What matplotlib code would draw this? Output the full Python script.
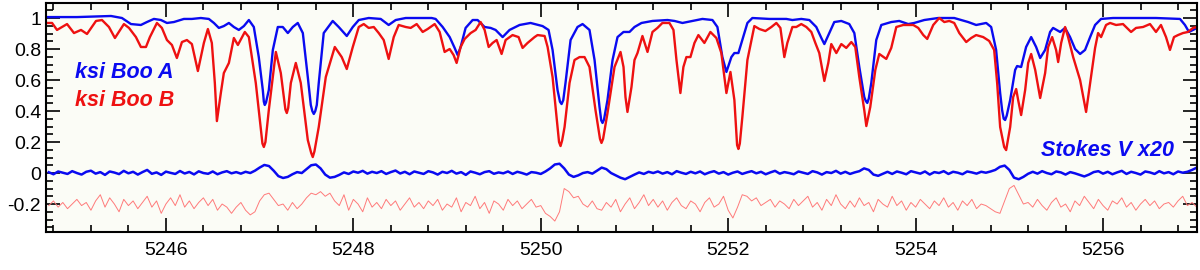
import numpy as np
import matplotlib
matplotlib.use("Agg")
import matplotlib.pyplot as plt
from matplotlib.ticker import MultipleLocator, FormatStrFormatter

plt.rcParams['font.family'] = ['Liberation Sans', 'DejaVu Sans']
plt.rcParams['axes.unicode_minus'] = False

# ksi Boo A (blue) intensity spectrum
wave_a = [5244.731, 5245.051, 5245.414, 5245.531, 5245.627, 5245.733, 5245.797, 5245.872, 5245.947, 5246.011,
          5246.085, 5246.192, 5246.277, 5246.373, 5246.458, 5246.512, 5246.565, 5246.618, 5246.672, 5246.725,
          5246.778, 5246.832, 5246.885, 5246.938, 5246.991, 5247.034, 5247.045, 5247.055, 5247.068, 5247.098,
          5247.141, 5247.194, 5247.247, 5247.301, 5247.354, 5247.407, 5247.461, 5247.514, 5247.546, 5247.562,
          5247.578, 5247.594, 5247.610, 5247.631, 5247.684, 5247.780, 5247.844, 5247.930, 5247.994, 5248.058,
          5248.164, 5248.292, 5248.377, 5248.452, 5248.559, 5248.697, 5248.836, 5248.878, 5248.953, 5249.028,
          5249.081, 5249.113, 5249.145, 5249.198, 5249.273, 5249.326, 5249.401, 5249.465, 5249.518, 5249.593,
          5249.667, 5249.774, 5249.891, 5250.019, 5250.083, 5250.126, 5250.179, 5250.205, 5250.222, 5250.240,
          5250.264, 5250.318, 5250.392, 5250.446, 5250.520, 5250.574, 5250.627, 5250.645, 5250.659, 5250.675,
          5250.712, 5250.766, 5250.819, 5250.883, 5250.947, 5251.000, 5251.075, 5251.192, 5251.352, 5251.427,
          5251.512, 5251.618, 5251.725, 5251.832, 5251.885, 5251.938, 5251.981, 5252.034, 5252.066, 5252.109,
          5252.151, 5252.205, 5252.258, 5252.439, 5252.620, 5252.685, 5252.780, 5252.866, 5252.940, 5252.994,
          5253.026, 5253.079, 5253.132, 5253.207, 5253.292, 5253.346, 5253.399, 5253.452, 5253.468, 5253.484,
          5253.500, 5253.527, 5253.580, 5253.634, 5253.740, 5253.825, 5253.921, 5253.985, 5254.092, 5254.241,
          5254.412, 5254.561, 5254.646, 5254.753, 5254.806, 5254.859, 5254.902, 5254.923, 5254.940, 5254.955,
          5254.972, 5255.009, 5255.062, 5255.083, 5255.126, 5255.179, 5255.233, 5255.286, 5255.329, 5255.382,
          5255.435, 5255.467, 5255.542, 5255.595, 5255.648, 5255.702, 5255.755, 5255.808, 5255.862, 5255.915,
          5255.979, 5256.107, 5256.352, 5256.565, 5256.821, 5256.874, 5256.917, 5256.960, 5257.003]
flux_a = [1.006, 1.006, 1.013, 1.000, 0.961, 0.955, 0.974, 0.994, 0.987, 0.968,
          0.974, 0.994, 0.994, 1.000, 0.994, 0.968, 0.936, 0.948, 0.968, 0.942,
          0.923, 0.948, 0.987, 0.942, 0.748, 0.535, 0.460, 0.439, 0.455, 0.535,
          0.794, 0.942, 0.942, 0.903, 0.942, 0.968, 0.903, 0.619, 0.439, 0.400,
          0.381, 0.400, 0.439, 0.581, 0.903, 0.981, 0.942, 0.884, 0.942, 0.987,
          1.000, 0.994, 0.955, 0.987, 1.000, 1.000, 1.000, 0.994, 0.942, 0.877,
          0.807, 0.761, 0.813, 0.936, 0.987, 0.987, 0.942, 0.936, 0.923, 0.877,
          0.923, 0.955, 0.968, 0.948, 0.923, 0.794, 0.535, 0.460, 0.445, 0.470,
          0.581, 0.858, 0.942, 0.961, 0.923, 0.729, 0.426, 0.340, 0.323, 0.345,
          0.471, 0.729, 0.877, 0.910, 0.910, 0.942, 0.968, 0.981, 0.987, 0.981,
          0.968, 0.981, 0.994, 0.987, 0.942, 0.748, 0.652, 0.748, 0.774, 0.774,
          0.858, 0.968, 1.000, 0.994, 0.994, 0.987, 0.994, 0.987, 0.942, 0.871,
          0.832, 0.903, 0.974, 0.981, 0.961, 0.903, 0.684, 0.490, 0.465, 0.452,
          0.480, 0.581, 0.858, 0.955, 0.974, 0.981, 0.961, 0.968, 0.987, 1.000,
          1.000, 0.974, 0.955, 0.968, 0.942, 0.794, 0.516, 0.406, 0.350, 0.342,
          0.370, 0.471, 0.665, 0.690, 0.684, 0.813, 0.877, 0.813, 0.742, 0.794,
          0.910, 0.936, 0.910, 0.936, 0.877, 0.800, 0.768, 0.794, 0.877, 0.955,
          0.994, 1.000, 1.000, 1.000, 0.994, 0.955, 0.910, 0.923, 0.936]

# ksi Boo B (red) intensity spectrum
wave_b = [5244.731, 5244.785, 5244.838, 5244.891, 5244.945, 5245.019, 5245.094, 5245.158, 5245.254, 5245.318,
          5245.392, 5245.456, 5245.552, 5245.606, 5245.680, 5245.733, 5245.787, 5245.829, 5245.904, 5245.957,
          5246.011, 5246.064, 5246.117, 5246.171, 5246.224, 5246.277, 5246.341, 5246.405, 5246.448, 5246.490,
          5246.522, 5246.544, 5246.586, 5246.618, 5246.672, 5246.725, 5246.768, 5246.842, 5246.885, 5246.959,
          5247.002, 5247.030, 5247.045, 5247.062, 5247.098, 5247.173, 5247.226, 5247.275, 5247.290, 5247.305,
          5247.333, 5247.386, 5247.439, 5247.514, 5247.550, 5247.567, 5247.585, 5247.631, 5247.706, 5247.802,
          5247.876, 5247.930, 5247.994, 5248.058, 5248.111, 5248.164, 5248.218, 5248.271, 5248.324, 5248.377,
          5248.431, 5248.484, 5248.559, 5248.612, 5248.676, 5248.740, 5248.793, 5248.868, 5248.921, 5248.974,
          5249.028, 5249.070, 5249.102, 5249.145, 5249.188, 5249.252, 5249.305, 5249.358, 5249.401, 5249.444,
          5249.486, 5249.529, 5249.582, 5249.625, 5249.699, 5249.763, 5249.806, 5249.859, 5249.934, 5249.966,
          5250.041, 5250.073, 5250.126, 5250.179, 5250.195, 5250.211, 5250.228, 5250.254, 5250.307, 5250.360,
          5250.414, 5250.467, 5250.520, 5250.584, 5250.632, 5250.648, 5250.665, 5250.712, 5250.787, 5250.851,
          5250.883, 5250.904, 5250.925, 5250.968, 5251.000, 5251.032, 5251.085, 5251.139, 5251.192, 5251.245,
          5251.298, 5251.373, 5251.416, 5251.448, 5251.490, 5251.522, 5251.554, 5251.597, 5251.640, 5251.682,
          5251.746, 5251.810, 5251.874, 5251.927, 5251.981, 5252.024, 5252.066, 5252.095, 5252.109, 5252.124,
          5252.151, 5252.205, 5252.279, 5252.333, 5252.397, 5252.461, 5252.514, 5252.557, 5252.599, 5252.631,
          5252.685, 5252.727, 5252.780, 5252.834, 5252.887, 5252.930, 5252.972, 5253.026, 5253.068, 5253.100,
          5253.154, 5253.207, 5253.260, 5253.314, 5253.356, 5253.399, 5253.452, 5253.474, 5253.516, 5253.570,
          5253.612, 5253.687, 5253.740, 5253.794, 5253.868, 5253.975, 5254.028, 5254.082, 5254.124, 5254.188,
          5254.252, 5254.306, 5254.359, 5254.412, 5254.466, 5254.540, 5254.593, 5254.646, 5254.721, 5254.785,
          5254.838, 5254.870, 5254.902, 5254.945, 5254.966, 5255.009, 5255.041, 5255.073, 5255.094, 5255.126,
          5255.169, 5255.201, 5255.233, 5255.276, 5255.329, 5255.382, 5255.414, 5255.457, 5255.499, 5255.521,
          5255.553, 5255.595, 5255.627, 5255.681, 5255.755, 5255.819, 5255.862, 5255.915, 5255.947, 5255.979,
          5256.032, 5256.075, 5256.139, 5256.213, 5256.299, 5256.352, 5256.427, 5256.501, 5256.565, 5256.618,
          5256.672, 5256.714, 5256.757, 5256.800, 5256.853, 5256.906, 5256.960, 5257.003]
flux_b = [0.968, 0.968, 0.923, 0.942, 0.961, 0.903, 0.923, 0.897, 0.981, 0.987,
          0.942, 0.871, 0.961, 0.936, 0.877, 0.813, 0.813, 0.877, 0.968, 0.936,
          0.858, 0.826, 0.742, 0.845, 0.858, 0.832, 0.658, 0.839, 0.929, 0.839,
          0.581, 0.335, 0.516, 0.645, 0.710, 0.871, 0.826, 0.910, 0.877, 0.581,
          0.342, 0.190, 0.168, 0.200, 0.406, 0.781, 0.645, 0.410, 0.387, 0.420,
          0.581, 0.710, 0.581, 0.213, 0.130, 0.103, 0.140, 0.297, 0.619, 0.813,
          0.748, 0.671, 0.813, 0.942, 0.961, 0.936, 0.942, 0.903, 0.858, 0.736,
          0.877, 0.955, 0.942, 0.936, 0.961, 0.910, 0.929, 0.961, 0.910, 0.781,
          0.800, 0.761, 0.710, 0.813, 0.865, 0.903, 0.923, 0.974, 0.923, 0.813,
          0.839, 0.858, 0.768, 0.858, 0.890, 0.877, 0.807, 0.839, 0.877, 0.890,
          0.884, 0.813, 0.619, 0.297, 0.200, 0.174, 0.210, 0.297, 0.581, 0.729,
          0.748, 0.748, 0.684, 0.406, 0.220, 0.194, 0.220, 0.387, 0.684, 0.781,
          0.684, 0.490, 0.394, 0.555, 0.729, 0.774, 0.884, 0.781, 0.910, 0.936,
          0.968, 0.968, 0.923, 0.729, 0.516, 0.684, 0.748, 0.748, 0.839, 0.890,
          0.839, 0.910, 0.871, 0.774, 0.516, 0.652, 0.471, 0.180, 0.155, 0.190,
          0.361, 0.729, 0.948, 0.929, 0.916, 0.942, 0.968, 0.936, 0.748, 0.839,
          0.942, 0.942, 0.961, 0.942, 0.910, 0.839, 0.774, 0.594, 0.710, 0.832,
          0.774, 0.832, 0.807, 0.845, 0.813, 0.619, 0.406, 0.303, 0.426, 0.665,
          0.768, 0.736, 0.807, 0.942, 0.955, 0.955, 0.936, 0.890, 0.865, 0.955,
          1.000, 0.974, 0.981, 0.968, 0.903, 0.845, 0.871, 0.890, 0.877, 0.852,
          0.794, 0.581, 0.297, 0.168, 0.148, 0.297, 0.490, 0.542, 0.471, 0.374,
          0.536, 0.710, 0.768, 0.665, 0.484, 0.645, 0.813, 0.877, 0.794, 0.716,
          0.839, 0.942, 0.877, 0.748, 0.600, 0.394, 0.581, 0.807, 0.903, 0.877,
          0.955, 0.968, 0.955, 0.961, 0.910, 0.936, 0.942, 0.961, 0.910, 0.955,
          0.877, 0.794, 0.877, 0.890, 0.903, 0.910, 0.936, 0.942]

# Stokes V (x20), sampled every 0.05 A from 5244.75
v_start = 5244.75
v_step = 0.05
stokes_a = [0.005, -0.008, 0.010, 0.002, -0.006, 0.012, 0.000, -0.010, 0.008, 0.015,
            -0.004, 0.006, -0.012, 0.010, 0.003, -0.007, 0.014, -0.002, 0.008, -0.010,
            0.006, 0.020, -0.005, 0.004, -0.012, 0.009, 0.001, -0.006, 0.013, -0.003,
            0.007, -0.009, 0.011, 0.000, -0.005, 0.010, -0.008, 0.004, 0.012, -0.002,
            0.006, -0.004, 0.008, 0.000, 0.015, 0.035, 0.052, 0.045, 0.015, -0.020,
            -0.032, -0.025, -0.008, 0.006, 0.000, 0.025, 0.050, 0.055, 0.030, -0.010,
            -0.030, -0.025, -0.012, 0.004, -0.006, 0.010, 0.002, 0.014, -0.004, 0.008,
            0.000, 0.012, -0.006, 0.006, 0.016, -0.003, 0.008, -0.008, 0.010, 0.002,
            -0.006, 0.012, 0.004, -0.010, 0.008, 0.000, 0.014, -0.004, 0.006, -0.012,
            0.010, 0.002, -0.008, 0.006, 0.012, -0.005, 0.004, -0.002, 0.010, -0.006,
            0.008, 0.000, -0.010, 0.006, 0.002, -0.006, 0.010, 0.030, 0.055, 0.060,
            0.030, -0.010, -0.025, -0.015, 0.000, 0.006, -0.004, 0.015, 0.035, 0.025,
            0.000, -0.015, -0.030, -0.040, -0.025, -0.010, 0.004, -0.006, 0.008, 0.000,
            0.010, -0.004, 0.006, -0.008, 0.012, 0.002, -0.006, 0.008, -0.002, 0.010,
            -0.008, 0.004, 0.012, -0.004, 0.006, -0.010, 0.002, 0.010, -0.006, 0.004,
            0.012, -0.002, 0.008, -0.008, 0.004, 0.014, -0.004, 0.006, 0.000, -0.008,
            0.010, 0.002, -0.006, 0.012, 0.004, -0.010, 0.006, 0.000, 0.014, -0.004,
            0.008, -0.006, 0.004, 0.012, 0.030, 0.020, -0.010, -0.018, -0.005, 0.008,
            -0.006, 0.010, 0.002, -0.008, 0.012, 0.004, -0.004, 0.010, -0.010, 0.006,
            0.000, 0.012, -0.006, 0.008, 0.002, -0.008, 0.010, 0.004, -0.004, 0.008,
            0.002, 0.010, 0.020, 0.040, 0.048, 0.020, -0.030, -0.040, -0.025, -0.005,
            0.008, -0.004, 0.012, 0.000, -0.008, 0.010, 0.004, -0.010, 0.006, -0.002,
            -0.012, -0.022, -0.010, 0.006, 0.012, -0.004, 0.008, -0.008, 0.004, 0.014,
            -0.006, 0.008, 0.000, -0.010, 0.010, 0.004, -0.006, 0.012, -0.002, 0.006,
            -0.008, 0.010, 0.002, 0.008, 0.020, 0.035]
stokes_b = [-0.21, -0.18, -0.22, -0.19, -0.23, -0.20, -0.17, -0.21, -0.19, -0.24,
            -0.18, -0.14, -0.22, -0.16, -0.20, -0.25, -0.17, -0.21, -0.18, -0.23,
            -0.19, -0.15, -0.22, -0.18, -0.26, -0.20, -0.16, -0.21, -0.14, -0.22,
            -0.18, -0.23, -0.19, -0.16, -0.21, -0.17, -0.24, -0.20, -0.22, -0.26,
            -0.22, -0.19, -0.24, -0.27, -0.25, -0.18, -0.14, -0.13, -0.17, -0.21,
            -0.20, -0.24, -0.19, -0.23, -0.20, -0.16, -0.13, -0.14, -0.12, -0.15,
            -0.13, -0.18, -0.21, -0.14, -0.24, -0.17, -0.20, -0.25, -0.16, -0.22,
            -0.19, -0.23, -0.17, -0.21, -0.18, -0.24, -0.20, -0.16, -0.22, -0.19,
            -0.23, -0.18, -0.21, -0.17, -0.24, -0.20, -0.22, -0.16, -0.25, -0.19,
            -0.21, -0.15, -0.23, -0.19, -0.26, -0.18, -0.20, -0.24, -0.17, -0.21,
            -0.18, -0.23, -0.20, -0.17, -0.22, -0.21, -0.26, -0.28, -0.31, -0.25,
            -0.10, -0.12, -0.16, -0.15, -0.20, -0.22, -0.18, -0.23, -0.24, -0.19,
            -0.22, -0.17, -0.25, -0.20, -0.16, -0.23, -0.19, -0.14, -0.21, -0.17,
            -0.22, -0.18, -0.24, -0.19, -0.16, -0.21, -0.23, -0.18, -0.20, -0.25,
            -0.19, -0.16, -0.22, -0.20, -0.15, -0.24, -0.29, -0.22, -0.14, -0.15,
            -0.18, -0.16, -0.21, -0.19, -0.17, -0.22, -0.18, -0.20, -0.23, -0.17,
            -0.21, -0.18, -0.15, -0.22, -0.19, -0.24, -0.17, -0.21, -0.14, -0.20,
            -0.23, -0.18, -0.22, -0.16, -0.21, -0.19, -0.25, -0.17, -0.20, -0.22,
            -0.15, -0.21, -0.18, -0.24, -0.19, -0.22, -0.17, -0.20, -0.23, -0.18,
            -0.21, -0.16, -0.22, -0.19, -0.24, -0.18, -0.21, -0.17, -0.23, -0.20,
            -0.21, -0.23, -0.25, -0.26, -0.18, -0.10, -0.08, -0.14, -0.20, -0.19,
            -0.22, -0.17, -0.21, -0.24, -0.19, -0.16, -0.22, -0.20, -0.25, -0.18,
            -0.21, -0.15, -0.19, -0.23, -0.17, -0.21, -0.24, -0.18, -0.20, -0.16,
            -0.22, -0.19, -0.24, -0.20, -0.17, -0.21, -0.18, -0.23, -0.20, -0.19,
            -0.22, -0.18, -0.15, -0.21, -0.19, -0.22]

wave_v = v_start + v_step * np.arange(len(stokes_a))

blue = '#0a0af0'
red = '#ee1111'

fig = plt.figure(figsize=(12, 2.7), dpi=100)
ax = fig.add_axes([0.0383, 0.141, 0.959, 0.848])
ax.set_facecolor('#fbfcf6')

ax.plot(wave_v, stokes_b, color='#ff7a7a', lw=0.7)
ax.plot(wave_v, stokes_a, color=blue, lw=1.8, solid_joinstyle='round')
ax.plot(wave_a, flux_a, color=blue, lw=1.7, solid_joinstyle='round')
ax.plot(wave_b, flux_b, color=red, lw=1.7, solid_joinstyle='round')

ax.text(5245.03, 0.65, 'ksi Boo A', color=blue, fontsize=15.5, fontweight='bold',
        fontstyle='italic', va='center', ha='left')
ax.text(5245.03, 0.465, 'ksi Boo B', color=red, fontsize=15.5, fontweight='bold',
        fontstyle='italic', va='center', ha='left')
ax.text(5256.76, 0.148, 'Stokes V x20', color=blue, fontsize=15.5, fontweight='bold',
        fontstyle='italic', va='center', ha='right')

ax.set_xlim(5244.72, 5257.0)
ax.set_ylim(-0.38, 1.097)

ax.xaxis.set_major_locator(MultipleLocator(2))
ax.xaxis.set_minor_locator(MultipleLocator(0.4))
ax.yaxis.set_major_locator(MultipleLocator(0.2))
ax.yaxis.set_minor_locator(MultipleLocator(0.05))
ax.xaxis.set_major_formatter(FormatStrFormatter('%d'))


def ylab(v, pos):
    if abs(v) < 1e-9:
        return '0'
    if abs(v - 1) < 1e-9:
        return '1'
    return '%.1f' % v


ax.yaxis.set_major_formatter(plt.FuncFormatter(ylab))

ax.tick_params(which='both', direction='in', top=True, right=True, labelsize=14, width=1.2)
ax.tick_params(which='major', length=10)
ax.tick_params(which='minor', length=5)
ax.tick_params(axis='x', which='major', pad=7)
for s in ax.spines.values():
    s.set_linewidth(1.5)

fig.savefig('out.png', dpi=100)
